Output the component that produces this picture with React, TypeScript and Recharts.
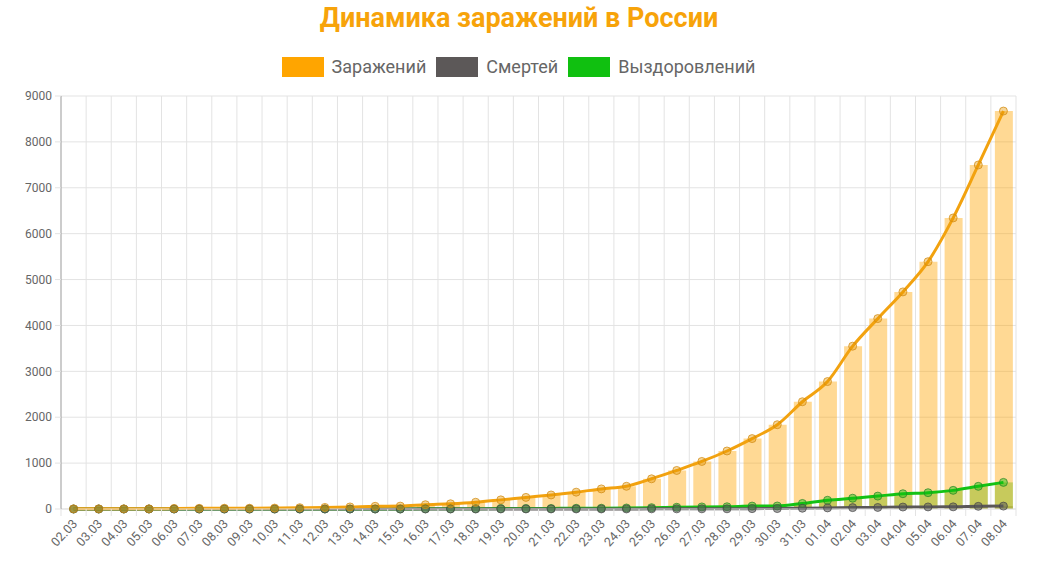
import React from 'react';
import {
  ComposedChart, Bar, Line, XAxis, YAxis, CartesianGrid,
} from 'recharts';

// ---------------------------------------------------------------------------
// Data
// ---------------------------------------------------------------------------

const dates = [
  '02.03', '03.03', '04.03', '05.03', '06.03', '07.03', '08.03', '09.03', '10.03', '11.03',
  '12.03', '13.03', '14.03', '15.03', '16.03', '17.03', '18.03', '19.03', '20.03', '21.03',
  '22.03', '23.03', '24.03', '25.03', '26.03', '27.03', '28.03', '29.03', '30.03', '31.03',
  '01.04', '02.04', '03.04', '04.04', '05.04', '06.04', '07.04', '08.04',
];

const infected = [
  3, 3, 3, 4, 10, 14, 17, 17, 20, 28,
  34, 45, 59, 63, 93, 114, 147, 199, 253, 306,
  367, 438, 495, 658, 840, 1036, 1264, 1534, 1836, 2337,
  2777, 3548, 4149, 4731, 5389, 6343, 7497, 8672,
];

const deaths = [
  0, 0, 0, 0, 0, 0, 0, 0, 0, 0,
  0, 0, 0, 0, 0, 0, 0, 1, 1, 1,
  1, 1, 1, 3, 3, 4, 4, 8, 9, 17,
  24, 30, 34, 43, 45, 47, 58, 63,
];

const recovered = [
  0, 0, 0, 0, 0, 0, 0, 0, 0, 0,
  0, 0, 0, 0, 5, 5, 8, 9, 9, 12,
  16, 17, 22, 29, 38, 45, 49, 64, 66, 121,
  190, 235, 281, 333, 355, 406, 494, 580,
];

const yTicks = [0, 1000, 2000, 3000, 4000, 5000, 6000, 7000, 8000, 9000];

const seriesNames = ['Заражений', 'Смертей', 'Выздоровлений'];
const seriesColors = ['#ffa500', '#5c5858', '#10c010'];

// ---------------------------------------------------------------------------
// Layout
// ---------------------------------------------------------------------------

const W = 1050;
const H = 570;
const M = { top: 96, right: 34, left: 0, bottom: 0 };
const Y_W = 61;
const X_H = 61;
const PLOT_W = W - M.left - M.right - Y_W;
const BAND = PLOT_W / dates.length;
const GRID = '#e3e3e3';
const TEXT = '#666666';
const FONT = 'Roboto, "Noto Sans", sans-serif';

const data = dates.map((d, i) => ({
  date: d,
  infected: infected[i],
  deaths: deaths[i],
  recovered: recovered[i],
}));

// category label + tick mark on the band boundary (grid sits between days)
function XTick(props: any) {
  const { x, y, payload, index } = props;
  const axisY = y - 6;
  return (
    <g>
      {index === 0 && (
        <line x1={x - BAND / 2} x2={x - BAND / 2} y1={axisY} y2={axisY + 7} stroke={GRID} />
      )}
      <line x1={x + BAND / 2} x2={x + BAND / 2} y1={axisY} y2={axisY + 7} stroke={GRID} />
      <text
        x={0} y={0}
        transform={`translate(${x + 2},${axisY + 13}) rotate(-47)`}
        textAnchor="end"
        dominantBaseline="middle"
        fill={TEXT}
        fontSize={12.5}
        fontFamily={FONT}
      >
        {payload.value}
      </text>
    </g>
  );
}

export default function App() {
  return (
    <div style={{ position: 'relative', width: W, height: H, background: '#fff', fontFamily: FONT }}>
      <style>{'body{margin:0}'}</style>

      <div
        style={{
          position: 'absolute', top: 2, left: 0, width: 1038, textAlign: 'center',
          fontSize: 27, fontWeight: 700, color: '#f7a30a', lineHeight: '32px',
        }}
      >
        Динамика заражений в России
      </div>

      <div
        style={{
          position: 'absolute', top: 56, left: 0, width: 1037,
          display: 'flex', justifyContent: 'center', alignItems: 'center',
        }}
      >
        {seriesNames.map((n, i) => (
          <div
            key={n}
            style={{ display: 'flex', alignItems: 'center', marginRight: i < seriesNames.length - 1 ? 10 : 0 }}
          >
            <span style={{
              display: 'inline-block', width: 42, height: 20, background: seriesColors[i],
              marginRight: 8,
            }} />
            <span style={{ fontSize: 18, color: TEXT }}>{n}</span>
          </div>
        ))}
      </div>

      <div style={{ position: 'absolute', top: 0, left: 0 }}>
        <ComposedChart width={W} height={H} data={data} margin={M} barGap={-18}>
          <CartesianGrid
            stroke={GRID}
            verticalCoordinatesGenerator={({ offset }: any) =>
              dates.map((_, i) => offset.left + (i + 1) * (offset.width / dates.length))
            }
          />
          <XAxis
            dataKey="date"
            height={X_H}
            interval={0}
            tickLine={false}
            tickSize={6}
            tickMargin={0}
            axisLine={{ stroke: GRID }}
            tick={<XTick />}
          />
          <YAxis
            width={Y_W}
            domain={[0, 9000]}
            ticks={yTicks}
            interval={0}
            tickSize={6}
            tickMargin={3}
            tickLine={{ stroke: GRID }}
            axisLine={{ stroke: '#999999' }}
            tick={{ fill: TEXT, fontSize: 12, fontFamily: FONT }}
          />

          {/* bars overlap in one slot (barGap = -barSize) */}
          <Bar dataKey="deaths" barSize={18} fill="#5c5858" fillOpacity={0.4} isAnimationActive={false} />
          <Bar dataKey="recovered" barSize={18} fill="#10c010" fillOpacity={0.4} isAnimationActive={false} />
          <Bar dataKey="infected" barSize={18} fill="#ffa500" fillOpacity={0.42} isAnimationActive={false} />

          <Line
            dataKey="recovered"
            type="monotone"
            stroke="#14c214"
            strokeWidth={3}
            dot={{ r: 4, fill: 'rgba(16,192,16,0.45)', stroke: 'rgba(40,130,40,0.7)', strokeWidth: 1 }}
            isAnimationActive={false}
          />
          <Line
            dataKey="deaths"
            type="monotone"
            stroke="#5a5757"
            strokeWidth={3}
            dot={{ r: 4, fill: 'rgba(90,90,90,0.55)', stroke: 'rgba(70,70,70,0.7)', strokeWidth: 1 }}
            isAnimationActive={false}
          />
          <Line
            dataKey="infected"
            type="monotone"
            stroke="#f2a20f"
            strokeWidth={3}
            dot={{ r: 4, fill: 'rgba(230,150,0,0.4)', stroke: 'rgba(210,140,20,0.75)', strokeWidth: 1 }}
            isAnimationActive={false}
          />
        </ComposedChart>
      </div>
    </div>
  );
}
